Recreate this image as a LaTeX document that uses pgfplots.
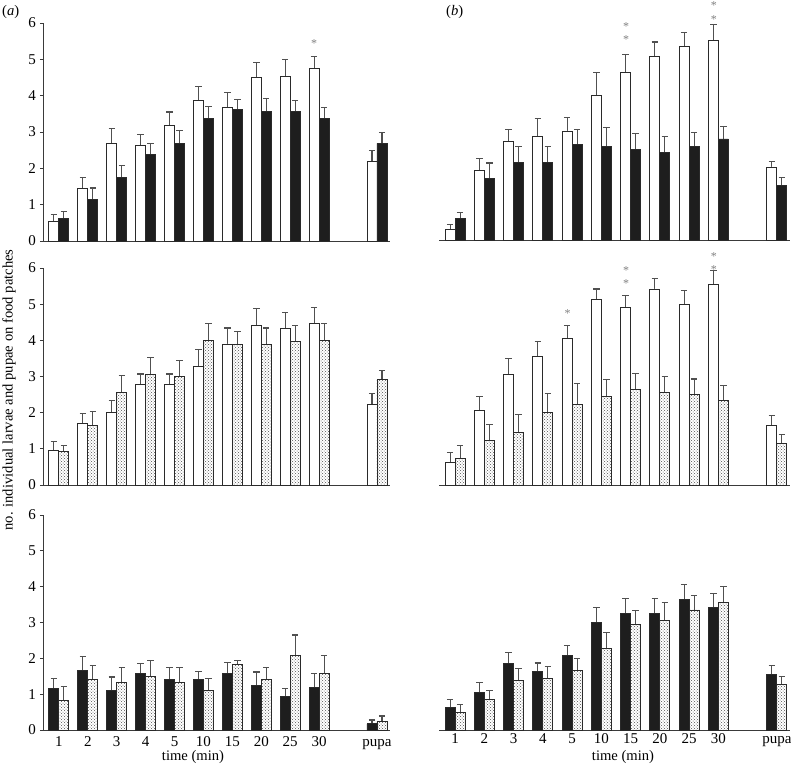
\documentclass[border=0pt]{standalone}
\usepackage{pgfplots}
\pgfplotsset{compat=1.18}
\usepackage{pgfplotstable}
\usetikzlibrary{patterns}
\usepackage{fontspec}
\setmainfont{Liberation Serif}

\definecolor{axisgray}{HTML}{3A3A3A}
\definecolor{bardraw}{HTML}{2A2A2A}
\definecolor{barblack}{HTML}{1E1E1E}
\definecolor{errgray}{HTML}{505050}
\definecolor{dotgray}{HTML}{505050}
\definecolor{stargray}{HTML}{808080}

% ---------- top left (a): open vs black ----------
\pgfplotstableread{
x y e
0 0.55 0.18
1 1.44 0.31
2 2.69 0.41
3 2.62 0.31
4 3.18 0.37
5 3.88 0.38
6 3.68 0.40
7 4.49 0.43
8 4.54 0.46
9 4.74 0.33
11 2.18 0.31
}\TLw
\pgfplotstableread{
x y e
0 0.62 0.18
1 1.14 0.32
2 1.76 0.31
3 2.38 0.30
4 2.69 0.34
5 3.38 0.32
6 3.62 0.28
7 3.56 0.36
8 3.56 0.31
9 3.38 0.29
11 2.69 0.30
}\TLb
% ---------- top right (b) ----------
\pgfplotstableread{
x y e
0 0.29 0.14
1 1.91 0.34
2 2.72 0.33
3 2.85 0.50
4 3.00 0.37
5 3.99 0.63
6 4.62 0.49
7 5.04 0.41
8 5.33 0.37
9 5.48 0.44
11 2.01 0.15
}\TRw
\pgfplotstableread{
x y e
0 0.58 0.18
1 1.70 0.42
2 2.13 0.44
3 2.13 0.44
4 2.63 0.40
5 2.58 0.52
6 2.50 0.43
7 2.41 0.43
8 2.58 0.38
9 2.78 0.34
11 1.51 0.21
}\TRb
% ---------- middle left ----------
\pgfplotstableread{
x y e
0 0.95 0.25
1 1.70 0.27
2 2.00 0.34
3 2.78 0.29
4 2.78 0.29
5 3.28 0.47
6 3.90 0.44
7 4.40 0.47
8 4.34 0.44
9 4.47 0.43
11 2.23 0.30
}\MLw
\pgfplotstableread{
x y e
0 0.92 0.17
1 1.64 0.38
2 2.56 0.47
3 3.05 0.47
4 3.00 0.43
5 4.00 0.47
6 3.90 0.35
7 3.90 0.44
8 3.98 0.42
9 4.00 0.47
11 2.92 0.24
}\MLd
% ---------- middle right ----------
\pgfplotstableread{
x y e
0 0.63 0.26
1 2.07 0.38
2 3.06 0.43
3 3.56 0.41
4 4.06 0.34
5 5.14 0.28
6 4.92 0.31
7 5.42 0.30
8 4.99 0.40
9 5.55 0.39
11 1.64 0.27
}\MRw
\pgfplotstableread{
x y e
0 0.74 0.36
1 1.23 0.44
2 1.45 0.50
3 2.00 0.54
4 2.23 0.58
5 2.45 0.46
6 2.63 0.45
7 2.56 0.43
8 2.50 0.43
9 2.35 0.39
11 1.14 0.25
}\MRd
% ---------- bottom left ----------
\pgfplotstableread{
x y e
0 1.16 0.28
1 1.67 0.39
2 1.09 0.39
3 1.58 0.28
4 1.42 0.32
5 1.42 0.21
6 1.58 0.31
7 1.24 0.38
8 0.93 0.23
9 1.18 0.39
11 0.17 0.11
}\BLb
\pgfplotstableread{
x y e
0 0.83 0.38
1 1.42 0.38
2 1.33 0.41
3 1.49 0.44
4 1.33 0.41
5 1.09 0.34
6 1.82 0.12
7 1.42 0.33
8 2.08 0.57
9 1.58 0.49
11 0.23 0.16
}\BLd
% ---------- bottom right ----------
\pgfplotstableread{
x y e
0 0.62 0.22
1 1.06 0.27
2 1.85 0.31
3 1.63 0.24
4 2.07 0.30
5 3.01 0.40
6 3.24 0.42
7 3.24 0.42
8 3.65 0.40
9 3.42 0.39
11 1.56 0.24
}\BRb
\pgfplotstableread{
x y e
0 0.49 0.22
1 0.84 0.25
2 1.38 0.34
3 1.44 0.34
4 1.67 0.32
5 2.28 0.45
6 2.95 0.39
7 3.07 0.49
8 3.35 0.41
9 3.57 0.44
11 1.27 0.22
}\BRd

\newcommand{\tickfont}{\fontsize{15}{17}\selectfont}
\newcommand{\labfont}{\fontsize{14.6}{17}\selectfont}

\pgfplotsset{
  panel/.style={
    scale only axis, anchor=south west,
    ymin=0, ymax=6, xmin=-0.55, xmax=11.45,
    axis x line*=bottom,
    axis line style={draw=axisgray, line width=0.9pt, -},
    xtick={0,1,2,3,4,5,6,7,8,9,11},
    xtick style={draw=none},
    tick label style={font=\tickfont},
    /pgf/number format/assume math mode=true,
    bar width=10pt,
    clip=false,
  },
  leftpanel/.style={panel, width=347pt,
    axis y line*=left, ytick={0,1,2,3,4,5,6},
    tick align=outside, major tick length=3pt,
    ytick style={draw=axisgray, line width=0.9pt},
    yticklabel style={font=\tickfont, inner sep=0pt, xshift=-4pt},
  },
  rightpanel/.style={panel, width=351pt, axis y line=none},
  withlabels/.style={
    xticklabels={1,2,3,4,5,10,15,20,25,30,pupa},
    xticklabel style={font=\tickfont, inner sep=0pt, anchor=north, text height=10pt, text depth=0pt, yshift=-3.5pt},
  },
  nolabels/.style={xticklabels={}},
  errs/.style={
    draw=none, mark=none, forget plot,
    /pgfplots/error bars/y dir=plus,
    /pgfplots/error bars/y explicit,
    /pgfplots/error bars/error mark=-,
    /pgfplots/error bars/error bar style={draw=errgray, line width=1.1pt},
    /pgfplots/error bars/error mark options={draw=errgray, line width=1.1pt, mark size=3.2pt, rotate=90},
  },
  openbar/.style={ybar, bar shift=-5pt, fill=white, draw=bardraw, line width=0.9pt},
  blackbarL/.style={ybar, bar shift=-5pt, fill=barblack, draw=bardraw, line width=0.9pt},
  blackbarR/.style={ybar, bar shift=5pt, fill=barblack, draw=bardraw, line width=0.9pt},
  dotbar/.style={ybar, bar shift=5pt, pattern=crosshatch dots, pattern color=dotgray, draw=bardraw, line width=0.9pt},
}
\tikzset{starnode/.style={text=stargray, font=\fontsize{12}{14}\selectfont, inner sep=0pt}}

% error bars for the left and right bar of each pair (x offset = half a bar)
\newcommand{\errL}[1]{\addplot[errs] table[x expr=\thisrow{x}-0.172, y=y, y error=e] {#1};}
\newcommand{\errR}[1]{\addplot[errs] table[x expr=\thisrow{x}+0.172, y=y, y error=e] {#1};}

\begin{document}
\begin{tikzpicture}
\path[use as bounding box] (0pt,0pt) rectangle (791pt,766pt);

% ---- top row ----
\begin{axis}[leftpanel, nolabels, at={(43pt,525pt)}, height=218pt]
  \errL{\TLw}
  \errR{\TLb}
  \addplot[openbar] table[x=x, y=y] {\TLw};
  \addplot[blackbarR] table[x=x, y=y] {\TLb};
  \node[starnode] at (axis cs:8.83,5.42) {*};
\end{axis}
\begin{axis}[rightpanel, nolabels, at={(439pt,526pt)}, height=218pt]
  \errL{\TRw}
  \errR{\TRb}
  \addplot[openbar] table[x=x, y=y] {\TRw};
  \addplot[blackbarR] table[x=x, y=y] {\TRb};
  \node[starnode] at (axis cs:5.85,5.88) {*};
  \node[starnode] at (axis cs:5.85,5.53) {*};
  \node[starnode] at (axis cs:8.85,6.45) {*};
  \node[starnode] at (axis cs:8.85,6.08) {*};
\end{axis}

% ---- middle row ----
\begin{axis}[leftpanel, nolabels, at={(43pt,281pt)}, height=217pt]
  \errL{\MLw}
  \errR{\MLd}
  \addplot[openbar] table[x=x, y=y] {\MLw};
  \addplot[dotbar] table[x=x, y=y] {\MLd};
\end{axis}
\begin{axis}[rightpanel, nolabels, at={(439pt,281pt)}, height=217pt]
  \errL{\MRw}
  \errR{\MRd}
  \addplot[openbar] table[x=x, y=y] {\MRw};
  \addplot[dotbar] table[x=x, y=y] {\MRd};
  \node[starnode] at (axis cs:3.85,4.75) {*};
  \node[starnode] at (axis cs:5.85,5.92) {*};
  \node[starnode] at (axis cs:5.85,5.57) {*};
  \node[starnode] at (axis cs:8.85,6.31) {*};
  \node[starnode] at (axis cs:8.85,5.96) {*};
\end{axis}

% ---- bottom row ----
\begin{axis}[leftpanel, withlabels, at={(43pt,36pt)}, height=215pt]
  \errL{\BLb}
  \errR{\BLd}
  \addplot[blackbarL] table[x=x, y=y] {\BLb};
  \addplot[dotbar] table[x=x, y=y] {\BLd};
\end{axis}
\begin{axis}[rightpanel, withlabels, at={(439pt,36pt)}, height=215pt]
  \errL{\BRb}
  \errR{\BRd}
  \addplot[blackbarL] table[x=x, y=y] {\BRb};
  \addplot[dotbar] table[x=x, y=y] {\BRd};
\end{axis}

% ---- labels ----
\node[anchor=west, inner sep=0pt, font=\labfont] at (2pt,754pt) {(\textit{a})};
\node[anchor=west, inner sep=0pt, font=\labfont] at (446pt,754pt) {(\textit{b})};
\node[rotate=90, inner sep=0pt, font=\labfont] at (9pt,376pt) {no. individual larvae and pupae on food patches};
\node[anchor=base, inner sep=0pt, font=\labfont] at (193pt,5.5pt) {time (min)};
\node[anchor=base, inner sep=0pt, font=\labfont] at (623pt,5.5pt) {time (min)};
\end{tikzpicture}
\end{document}
